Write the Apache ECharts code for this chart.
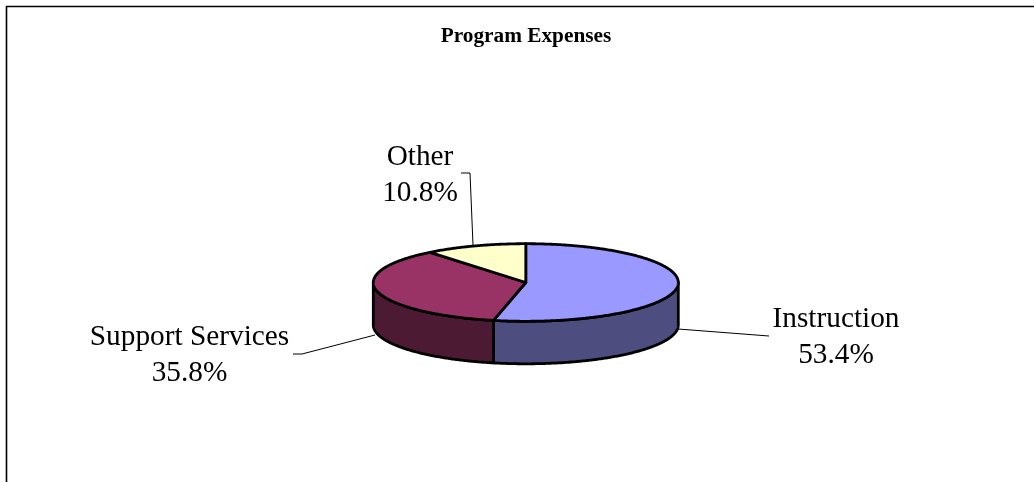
<!DOCTYPE html>
<html>
<head>
<meta charset="utf-8">
<style>html,body{margin:0;padding:0;background:#fff}#c{width:1034px;height:482px}</style>
<script src="https://cdn.jsdelivr.net/npm/echarts@6/dist/echarts.min.js"></script>
</head>
<body>
<div id="c"></div>
<script>
const categories = ['Instruction', 'Support Services', 'Other'];
const shares = [53.4, 35.8, 10.8];
const chartTitle = 'Program Expenses';

const topColors = ['#9999ff', '#993366', '#ffffcc'];
const wallColors = ['#4d4d80', '#4d1a33', '#808066'];
const PIE = { cx: 525.8, cy: 282.5, rx: 152.5, ry: 38.8, depth: 42.5 };
const labelPos = [[836, 337.5], [189.5, 355.5], [420, 175]];
const leaderLines = [
  [[678, 329], [769, 336]],
  [[293, 354], [302, 354], [375, 335]],
  [[461, 173], [470, 173], [473, 245]]
];
const total = shares.reduce((a, b) => a + b, 0);

function pt(theta, dy) {
  return [PIE.cx + PIE.rx * Math.sin(theta), PIE.cy + (dy || 0) - PIE.ry * Math.cos(theta)];
}
function arcPoints(a, b, dy) {
  const n = Math.max(2, Math.ceil(Math.abs(b - a) / 0.01));
  const out = [];
  for (let i = 0; i <= n; i++) out.push(pt(a + (b - a) * i / n, dy));
  return out;
}
function sliceAngles(idx) {
  let s = 0;
  for (let i = 0; i < idx; i++) s += shares[i];
  return [s / total * 2 * Math.PI, (s + shares[idx]) / total * 2 * Math.PI];
}
const edgeStyle = { stroke: '#000', lineWidth: 2.8, lineJoin: 'round' };

function renderSlice(params, api) {
  const i = api.value(0);
  const [a, b] = sliceAngles(i);
  const children = [];
  children.push({
    type: 'polyline', z2: 1,
    shape: { points: leaderLines[i] },
    style: { stroke: '#000', lineWidth: 1, fill: null }
  });
  const fa = Math.max(a, Math.PI / 2), fb = Math.min(b, Math.PI * 1.5);
  if (fb > fa) {
    const up = arcPoints(fa, fb, 0);
    const down = arcPoints(fb, fa, PIE.depth);
    children.push({
      type: 'polygon', z2: 2,
      shape: { points: up.concat(down) },
      style: Object.assign({ fill: wallColors[i] }, edgeStyle)
    });
  }
  children.push({
    type: 'polygon', z2: 3,
    shape: { points: [[PIE.cx, PIE.cy]].concat(arcPoints(a, b, 0)) },
    style: Object.assign({ fill: topColors[i] }, edgeStyle)
  });
  children.push({
    type: 'text', z2: 4,
    x: labelPos[i][0], y: labelPos[i][1],
    style: {
      text: categories[i] + '\n' + api.value(1).toFixed(1) + '%',
      font: '29.3px "Liberation Serif"',
      lineHeight: 36,
      fill: '#000',
      align: 'center',
      verticalAlign: 'middle'
    }
  });
  return { type: 'group', children };
}

const chart = echarts.init(document.getElementById('c'), null, { renderer: 'canvas' });
chart.setOption({
  animation: false,
  backgroundColor: '#fff',
  title: {
    text: chartTitle,
    left: 521, top: 21, textAlign: 'center',
    textStyle: { fontFamily: 'Liberation Serif', fontWeight: 'bold', fontSize: 21.3, color: '#000' }
  },
  xAxis: { show: false, min: 0, max: 1 },
  yAxis: { show: false, min: 0, max: 1 },
  grid: { left: 0, right: 0, top: 0, bottom: 0 },
  graphic: [
    { type: 'polyline', silent: true, shape: { points: [[6.5, 482], [6.5, 6.5], [1034, 6.5]] },
      style: { stroke: '#000', lineWidth: 1.6, fill: null } }
  ],
  series: [{
    type: 'custom',
    coordinateSystem: 'none',
    renderItem: renderSlice,
    silent: true,
    data: shares.map((v, i) => [i, v])
  }]
});
</script>
</body>
</html>
